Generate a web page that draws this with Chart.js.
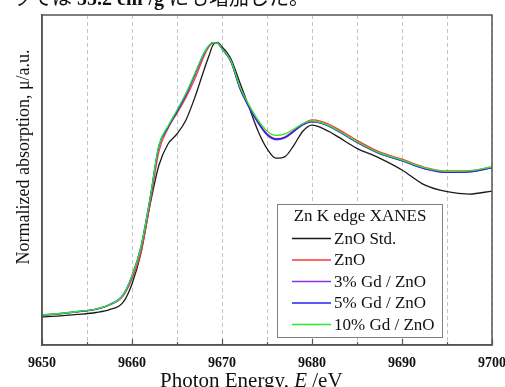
<!DOCTYPE html>
<html><head><meta charset="utf-8">
<script src="https://cdn.jsdelivr.net/npm/chart.js@4/dist/chart.umd.min.js"></script>
<style>
html,body{margin:0;padding:0;background:#fff;overflow:hidden;}
#wrap{position:relative;width:505px;height:387px;overflow:hidden;}
#cap{position:absolute;left:12px;top:-12px;font-size:20px;line-height:20px;font-family:"Liberation Serif","Noto Sans CJK JP",serif;white-space:nowrap;color:#111;}
#cap b{font-weight:bold;}
canvas{position:absolute;left:0;top:0;}
</style></head>
<body>
<div id="wrap"><canvas id="c" width="505" height="387"></canvas><div id="cap">ッでは <b>55.2 cm²/g</b> にも増加した。</div></div>
<script>
// Photon energy (eV)
const energy = [9650, 9652, 9654, 9656, 9657.5, 9659, 9660, 9661, 9662, 9663, 9664, 9665, 9666, 9667, 9668, 9668.5, 9669, 9669.5, 9670, 9670.5, 9671, 9672, 9673, 9674, 9675, 9676, 9677, 9678, 9679, 9680, 9681, 9682, 9683, 9685, 9687.5, 9690, 9692.5, 9695, 9697.5, 9700];
// Normalized absorption
const znoStd = [-0.030, -0.024, -0.015, -0.003, 0.014, 0.058, 0.170, 0.358, 0.648, 0.891, 1.018, 1.079, 1.164, 1.303, 1.467, 1.545, 1.618, 1.634, 1.606, 1.576, 1.533, 1.388, 1.242, 1.097, 0.990, 0.932, 0.942, 1.012, 1.097, 1.133, 1.118, 1.091, 1.058, 0.992, 0.933, 0.861, 0.770, 0.729, 0.715, 0.733];
const zno = [-0.018, -0.009, 0.003, 0.018, 0.043, 0.097, 0.200, 0.365, 0.655, 0.975, 1.112, 1.205, 1.300, 1.415, 1.550, 1.603, 1.630, 1.631, 1.596, 1.563, 1.520, 1.360, 1.248, 1.152, 1.080, 1.050, 1.062, 1.100, 1.140, 1.164, 1.156, 1.135, 1.105, 1.040, 0.970, 0.926, 0.877, 0.855, 0.857, 0.880];
const gd3 = [-0.020, -0.011, 0.001, 0.016, 0.043, 0.100, 0.214, 0.390, 0.680, 1.005, 1.118, 1.212, 1.315, 1.440, 1.566, 1.610, 1.632, 1.630, 1.595, 1.561, 1.515, 1.352, 1.240, 1.146, 1.072, 1.044, 1.055, 1.094, 1.134, 1.152, 1.144, 1.123, 1.093, 1.028, 0.960, 0.916, 0.868, 0.846, 0.849, 0.873];
const gd5 = [-0.019, -0.010, 0.002, 0.017, 0.045, 0.104, 0.220, 0.398, 0.688, 1.010, 1.120, 1.215, 1.318, 1.442, 1.567, 1.611, 1.633, 1.630, 1.596, 1.562, 1.518, 1.356, 1.244, 1.150, 1.077, 1.048, 1.058, 1.097, 1.137, 1.154, 1.145, 1.124, 1.094, 1.029, 0.961, 0.917, 0.869, 0.847, 0.850, 0.874];
const gd10 = [-0.018, -0.009, 0.003, 0.018, 0.045, 0.103, 0.218, 0.394, 0.685, 1.012, 1.127, 1.224, 1.327, 1.448, 1.570, 1.612, 1.633, 1.630, 1.594, 1.564, 1.521, 1.364, 1.255, 1.164, 1.097, 1.070, 1.079, 1.109, 1.142, 1.158, 1.148, 1.127, 1.097, 1.032, 0.964, 0.921, 0.873, 0.852, 0.855, 0.879];
const seriesLabels = ['ZnO Std.', 'ZnO', '3% Gd / ZnO', '5% Gd / ZnO', '10% Gd / ZnO'];
const seriesColors = ['#1a1a1a', '#ff3535', '#9030e0', '#2424f0', '#2ee82e'];
const legendTitle = 'Zn K edge XANES';
const xTitle = ['Photon Energy, ', 'E', ' /eV'];
const yTitle = 'Normalized absorption, \u03bc/a.u.';

const seriesValues = [znoStd, zno, gd3, gd5, gd10];
const SERIF = '"Liberation Serif", "Times New Roman", serif';

const datasets = seriesValues.map((arr, k) => ({
  label: seriesLabels[k],
  data: arr.map((v, i) => ({x: energy[i], y: v})),
  borderColor: seriesColors[k],
  backgroundColor: seriesColors[k],
  borderWidth: 1.3,
  pointRadius: 0,
  fill: false,
  cubicInterpolationMode: 'monotone',
  order: seriesValues.length - 1 - k
}));

const decor = {
  id: 'decor',
  afterDraw(chart) {
    const ctx = chart.ctx, a = chart.chartArea, xs = chart.scales.x;
    ctx.save();
    // frame
    ctx.strokeStyle = '#555';
    ctx.lineWidth = 1.5;
    ctx.strokeRect(a.left, a.top, a.right - a.left, a.bottom - a.top);
    // inside ticks on bottom axis
    ctx.lineWidth = 1.2;
    for (let v = 9650; v <= 9700; v += 5) {
      const px = Math.round(xs.getPixelForValue(v)) + 0.5;
      const len = (v % 10 === 0) ? 6 : 3;
      ctx.beginPath(); ctx.moveTo(px, a.bottom); ctx.lineTo(px, a.bottom - len); ctx.stroke();
    }
    // legend
    const bx = 277.5, by = 204.5, bw = 165, bh = 133;
    ctx.fillStyle = '#fff';
    ctx.fillRect(bx, by, bw, bh);
    ctx.strokeStyle = '#808080';
    ctx.lineWidth = 1;
    ctx.strokeRect(bx, by, bw, bh);
    ctx.fillStyle = '#111';
    ctx.font = '17px ' + SERIF;
    ctx.textBaseline = 'middle';
    ctx.textAlign = 'center';
    ctx.fillText(legendTitle, bx + bw / 2, 217);
    ctx.textAlign = 'left';
    chart.data.datasets.forEach((ds, i) => {
      const y = 238.5 + i * 21.5;
      ctx.strokeStyle = ds.borderColor;
      ctx.lineWidth = 1.5;
      ctx.beginPath(); ctx.moveTo(292, y); ctx.lineTo(331, y); ctx.stroke();
      ctx.fillStyle = '#111';
      ctx.fillText(ds.label, 334, y + 1);
    });
    // x title with italic E
    ctx.textBaseline = 'alphabetic';
    ctx.fillStyle = '#111';
    let x = 160;
    const yb = 387;
    ctx.font = '21px ' + SERIF;
    ctx.fillText(xTitle[0], x, yb); x += ctx.measureText(xTitle[0]).width;
    ctx.font = 'italic 21px ' + SERIF;
    ctx.fillText(xTitle[1], x, yb); x += ctx.measureText(xTitle[1]).width;
    ctx.font = '21px ' + SERIF;
    ctx.fillText(xTitle[2], x, yb);
    // y title
    ctx.translate(29, 157);
    ctx.rotate(-Math.PI / 2);
    ctx.font = '18px ' + SERIF;
    ctx.textAlign = 'center';
    ctx.fillText(yTitle, 0, 0);
    ctx.restore();
  }
};

new Chart(document.getElementById('c'), {
  type: 'line',
  data: {datasets},
  options: {
    responsive: false,
    animation: false,
    devicePixelRatio: 1,
    layout: {padding: {top: 15, right: 13, left: 0, bottom: 0}},
    plugins: {legend: {display: false}, tooltip: {enabled: false}},
    scales: {
      x: {
        type: 'linear', min: 9650, max: 9700,
        afterFit: s => { s.height = 42; s.paddingLeft = 0; s.paddingRight = 0; },
        ticks: {
          stepSize: 5, autoSkip: false, maxRotation: 0, padding: 10,
          color: '#111',
          font: {family: SERIF, size: 14, weight: 'bold'},
          callback: v => (v % 10 === 0 ? String(v) : '')
        },
        grid: {color: '#c4c4c4', lineWidth: 1, drawTicks: false},
        border: {display: true, color: '#555', width: 1.5, dash: [4, 3]}
      },
      y: {
        type: 'linear', min: -0.2, max: 1.8,
        afterFit: s => { s.width = 42; s.paddingTop = 0; s.paddingBottom = 0; },
        ticks: {display: false},
        grid: {display: false, drawTicks: false},
        border: {display: true, color: '#555', width: 1.5}
      }
    }
  },
  plugins: [decor]
});
</script>
</body></html>
